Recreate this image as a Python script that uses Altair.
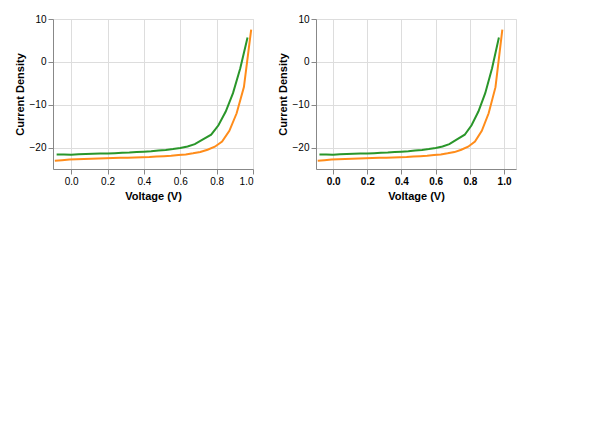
import altair as alt
import pandas as pd

FONT = "Liberation Sans"
GREEN = "#2a962a"
GREEN_PT = "#9ad492"
ORANGE = "#ff8c1a"
ORANGE_PT = "#ffc68c"

jv_v_pyt = [-0.08, -0.04, 0.0, 0.04, 0.08, 0.12, 0.16, 0.2, 0.24, 0.28, 0.32, 0.36, 0.4, 0.44,
            0.48, 0.52, 0.56, 0.6, 0.64, 0.68, 0.72, 0.77, 0.81, 0.85, 0.89, 0.93, 0.97]
jv_j_pyt = [-21.6, -21.6, -21.65, -21.55, -21.5, -21.45, -21.4, -21.4, -21.3, -21.2, -21.15, -21.05,
            -20.95, -20.85, -20.7, -20.55, -20.35, -20.1, -19.75, -19.2, -18.2, -17.0, -14.8, -11.6,
            -7.3, -1.5, 5.7]
jv_v_df = [-0.09, -0.05, -0.01, 0.03, 0.07, 0.11, 0.15, 0.19, 0.23, 0.27, 0.31, 0.35, 0.39, 0.43,
           0.47, 0.51, 0.55, 0.59, 0.63, 0.67, 0.71, 0.75, 0.79, 0.83, 0.87, 0.91, 0.95, 0.975, 0.99]
jv_j_df = [-23.1, -22.95, -22.8, -22.7, -22.65, -22.6, -22.55, -22.5, -22.45, -22.4, -22.35, -22.3,
           -22.25, -22.2, -22.1, -22.0, -21.9, -21.75, -21.6, -21.35, -21.05, -20.5, -19.8, -18.6,
           -16.1, -12.0, -5.9, 2.5, 7.5]

series_dom = ["PM6:PYT", "PM6:PY-DF"]
stroke_scale = alt.Scale(domain=series_dom, range=[GREEN, ORANGE])

dfa = pd.DataFrame({"V": jv_v_pyt + jv_v_df, "J": jv_j_pyt + jv_j_df,
                    "s": [series_dom[0]] * len(jv_v_pyt) + [series_dom[1]] * len(jv_v_df)})

p1 = alt.Chart(dfa).mark_line().encode(
    x=alt.X("V:Q", title="Voltage (V)"),
    y=alt.Y("J:Q", title="Current Density"),
    color=alt.Color("s:N", scale=stroke_scale, legend=None),
).properties(width=200, height=150)

p2 = alt.Chart(dfa).mark_line().encode(
    x=alt.X("V:Q", scale=alt.Scale(domain=[-0.1, 1.07], nice=False),
            axis=alt.Axis(values=[0, 0.2, 0.4, 0.6, 0.8, 1.0], format=".1f", title="Voltage (V)",
                          labelFont=FONT, labelFontWeight="bold")),
    y=alt.Y("J:Q", title="Current Density"),
    color=alt.Color("s:N", scale=stroke_scale, legend=None),
).properties(width=200, height=150)

chart = alt.hconcat(p1, p2)
chart.save("out.html", embed_options={"renderer": "svg", "actions": False})
